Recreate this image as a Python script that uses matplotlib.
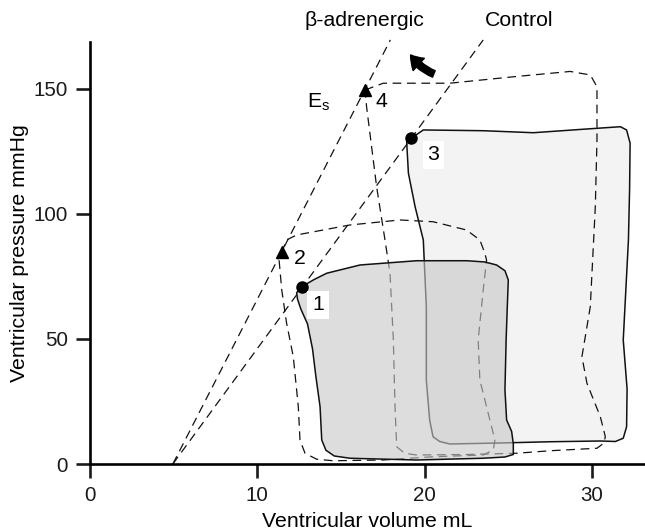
import matplotlib
matplotlib.use("Agg")
import matplotlib.pyplot as plt

plt.rcParams['font.family'] = ['Liberation Sans', 'DejaVu Sans']

# ---------------- data (volume mL, pressure mmHg) ----------------
# Control loop (starts at point 1, end-systole)
ctrl_v = [12.65, 13.4, 14.15, 16.14, 19.52, 22.52, 23.6, 24.3, 24.8, 25.0, 24.94, 24.87,
          24.8, 24.9, 25.2, 25.3, 25.3, 24.8, 23.5, 19.5, 15.54, 14.6, 14.1, 13.85,
          13.75, 13.5, 13.3, 13.0, 12.6, 12.4, 12.35]
ctrl_p = [70.9, 73.8, 76.3, 79.6, 81.3, 81.3, 80.8, 79.6, 77.3, 73.6, 62.9, 49.6,
          29.6, 17.6, 13.0, 8.0, 3.8, 2.8, 2.3, 1.6, 2.3, 3.2, 5.5, 9.6,
          22.9, 35.0, 46.0, 56.0, 62.0, 66.0, 68.5]

# Control, increased preload (starts at point 3)
load_v = [19.2, 19.92, 23.5, 26.5, 29.5, 31.7, 32.07, 32.28, 32.25, 32.18, 31.87, 32.1,
          32.07, 31.87, 31.4, 30.5, 27.5, 24.5, 21.5, 20.9, 20.5, 20.3, 20.1, 20.1,
          19.92, 19.43, 19.03, 18.93, 18.95]
load_p = [130.3, 133.6, 133.3, 132.5, 133.9, 134.9, 133.6, 128.3, 110.0, 89.6, 49.6, 30.0,
          14.9, 10.3, 9.0, 9.2, 8.9, 8.4, 8.0, 9.0, 10.9, 17.6, 33.6, 62.9,
          89.6, 102.9, 116.3, 128.3, 129.5]

# beta-adrenergic loop, low preload (starts at point 2)
betaA_v = [11.45, 11.75, 12.35, 15.54, 18.53, 20.5, 22.5, 23.3, 23.6, 23.7, 23.5, 23.2,
           23.3, 23.9, 24.2, 24.1, 23.5, 20.5, 17.5, 14.54, 13.55, 12.85, 12.55, 12.45,
           12.15, 11.75, 11.46, 11.3, 11.45]
betaA_p = [84.5, 89.6, 91.6, 95.6, 97.6, 96.9, 93.6, 89.6, 84.3, 81.6, 69.6, 49.6,
           33.6, 17.6, 9.6, 5.6, 3.6, 2.9, 1.6, 1.3, 1.9, 4.3, 9.6, 22.9,
           42.9, 56.3, 69.6, 81.6, 84.5]

# beta-adrenergic loop, high preload (starts at point 4)
betaB_v = [16.44, 17.53, 21.5, 25.5, 28.7, 29.9, 30.3, 30.3, 30.2, 30.1, 29.9, 29.4,
           29.7, 30.5, 30.8, 30.7, 30.3, 27.5, 25.5, 22.5, 19.5, 18.8, 18.33, 18.23,
           18.13, 17.93, 17.63, 17.13, 16.53, 16.44]
betaB_p = [149.6, 152.3, 152.3, 155.0, 157.0, 155.6, 150.9, 129.6, 102.9, 89.6, 62.9, 42.9,
           32.3, 18.9, 10.9, 8.3, 6.3, 5.3, 4.3, 3.8, 3.6, 4.3, 6.9, 22.9,
           49.6, 76.3, 89.6, 110.9, 142.9, 149.6]

# End-systolic pressure-volume relations (E_s lines)
es_beta_v = [4.95, 17.95]
es_beta_p = [0.0, 169.6]
es_ctrl_v = [4.95, 23.5]
es_ctrl_p = [0.0, 169.6]

# labelled points
circ_v = [12.65, 19.2]
circ_p = [70.9, 130.3]
tri_v = [11.45, 16.44]
tri_p = [84.7, 149.6]

x_ticks = [0, 10, 20, 30]
y_ticks = [0, 50, 100, 150]

# ---------------- figure ----------------
fig = plt.figure(figsize=(6.45, 5.32), dpi=100)
ax = fig.add_axes([90/645, 68/532, 555/645, 422.3/532])
ax.set_xlim(0, 33.17)
ax.set_ylim(0, 168.9)

for s in ['top', 'right']:
    ax.spines[s].set_visible(False)
for s in ['left', 'bottom']:
    ax.spines[s].set_linewidth(1.9)
ax.set_xticks(x_ticks)
ax.set_yticks(y_ticks)
ax.tick_params(direction='out', length=10, width=1.9, labelsize=14.8, pad=6, colors='#1a1a1a')

dash = (0, (7, 4.5))
lw_d = 0.9

# light loop
ax.fill(load_v, load_p, color='#f3f3f3', zorder=1, lw=0)
ax.plot(load_v + [load_v[0]], load_p + [load_p[0]], color='#111111', lw=1.1, zorder=2)

# dashed loops and lines
ax.plot(betaA_v, betaA_p, color='#111111', lw=lw_d, ls=dash, zorder=2)
ax.plot(betaB_v, betaB_p, color='#111111', lw=lw_d, ls=dash, zorder=2)
ax.plot(es_beta_v, es_beta_p, color='#111111', lw=lw_d, ls=dash, zorder=2, clip_on=False)
ax.plot(es_ctrl_v, es_ctrl_p, color='#111111', lw=lw_d, ls=dash, zorder=2, clip_on=False)

# dark control loop (semi-transparent fill over lines)
ax.fill(ctrl_v, ctrl_p, color='#c8c8c8', alpha=0.61, zorder=3, lw=0)
ax.plot(ctrl_v + [ctrl_v[0]], ctrl_p + [ctrl_p[0]], color='#111111', lw=1.1, zorder=4)

# markers
ax.plot(circ_v, circ_p, 'o', color='black', ms=8, zorder=5, clip_on=False)
ax.plot(tri_v, tri_p, '^', color='black', ms=9, zorder=5, clip_on=False)

# point labels
fs = 15.3
box = dict(facecolor='white', edgecolor='none', pad=3.5)
ax.text(13.64, 63.6, '1', fontsize=fs, ha='center', va='center', bbox=box, zorder=6)
ax.text(12.53, 82.3, '2', fontsize=fs, ha='center', va='center', zorder=6)
ax.text(20.52, 123.6, '3', fontsize=fs, ha='center', va='center', bbox=box, zorder=6)
ax.text(17.43, 144.9, '4', fontsize=fs, ha='center', va='center', zorder=6)
ax.text(12.95, 144.9, r'E$_\mathregular{s}$', fontsize=fs, ha='left', va='center', zorder=6)

ax.text(16.4, 177.3, 'β-adrenergic', fontsize=fs, ha='center', va='center', clip_on=False)
ax.text(25.65, 177.3, 'Control', fontsize=fs, ha='center', va='center', clip_on=False)

# arrow
ax.annotate('', xy=(19.16, 163.6), xytext=(20.55, 156.0),
            arrowprops=dict(arrowstyle='simple,head_length=0.45,head_width=0.6,tail_width=0.25',
                            connectionstyle='arc3,rad=-0.15', color='black',
                            shrinkA=0, shrinkB=0, mutation_scale=20),
            annotation_clip=False, zorder=6)

ax.set_xlabel('Ventricular volume mL', fontsize=fs)
ax.xaxis.set_label_coords(0.5, (464 - 521.7) / 422.3)
ax.xaxis.label.set_verticalalignment('center')
ax.set_ylabel('Ventricular pressure mmHg', fontsize=fs)
ax.yaxis.set_label_coords(-70 / 555, 0.5)
ax.yaxis.label.set_verticalalignment('center')

fig.savefig('out.png', dpi=100)
